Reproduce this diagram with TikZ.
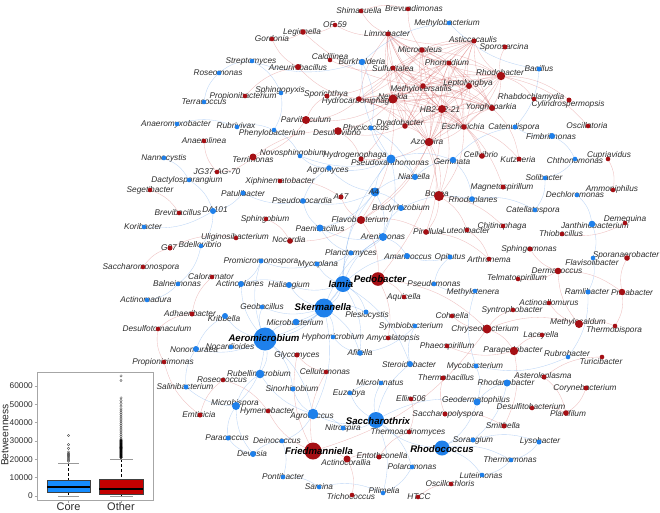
\documentclass[tikz,border=0pt]{standalone}
\usepackage{fontspec}
\setmainfont{Liberation Sans}
\definecolor{nblue}{RGB}{30,128,235}
\definecolor{nred}{RGB}{165,15,20}
\definecolor{eblue}{RGB}{95,155,235}
\definecolor{ered}{RGB}{205,60,60}
\definecolor{lbl}{RGB}{45,45,45}
\definecolor{boxblue}{RGB}{20,140,255}
\definecolor{boxred}{RGB}{195,0,0}
\pgfdeclarelayer{bg}
\pgfdeclarelayer{edges}
\pgfdeclarelayer{dots}
\pgfdeclarelayer{top}
\pgfsetlayers{bg,edges,main,dots,top}
\tikzset{
  redge/.style={draw=ered, line width=0.35pt, opacity=0.33},
  bedge/.style={draw=eblue, line width=0.35pt, opacity=0.42},
  lbltxt/.style={font=\fontsize{8.3}{9}\selectfont\itshape, text=lbl, inner sep=0pt},
  bigtxt/.style={font=\fontsize{9.6}{10}\selectfont\bfseries\itshape, text=black, inner sep=0pt},
  dotnode/.style={circle, inner sep=0pt, draw=none},
  ticklbl/.style={font=\fontsize{8.3}{9}\selectfont, text=lbl, anchor=east, inner sep=0pt},
}
\newcommand\netnode[8]{%
  \node[lbltxt] at (#6,#7) {#8};
  \begin{pgfonlayer}{dots}
  \node[dotnode, fill=#4, minimum size=#5*2pt] (#1) at (#2,#3) {};
  \end{pgfonlayer}
}
\newcommand\bignode[9]{%
  \begin{pgfonlayer}{top}
  \node[#9] at (#6,#7) {#8};
  \end{pgfonlayer}
  \begin{pgfonlayer}{dots}
  \node[dotnode, fill=#4, minimum size=#5*2pt] (#1) at (#2,#3) {};
  \end{pgfonlayer}
}
\begin{document}
\begin{tikzpicture}[x=1pt,y=-1pt]
\useasboundingbox (0,0) rectangle (660,512);
\begin{pgfonlayer}{bg}
\fill[white] (0,0) rectangle (660,512);
\end{pgfonlayer}
% ---------------- nodes ----------------
\netnode{shimasuella}{361}{11}{nred}{2.3}{359}{11}{Shimasuella}
\netnode{brevundimonas}{408}{9}{nred}{2.3}{414}{9}{Brevundimonas}
\netnode{methylobacterium}{449}{23}{nblue}{2.3}{447}{23}{Methylobacterium}
\netnode{ofn}{335}{25}{nred}{2.3}{335}{25}{OF-59}
\netnode{legionella}{303}{32}{nred}{2.8}{302}{32}{Legionella}
\netnode{limnobacter}{388}{34}{nred}{2.5}{387}{34}{Limnobacter}
\netnode{gordonia}{272}{39}{nred}{2.3}{272}{39}{Gordonia}
\netnode{microcoleus}{422}{50}{nred}{2.8}{420}{50}{Microcoleus}
\netnode{asticcacaulis}{474}{41}{nred}{2.5}{473}{40}{Asticcacaulis}
\netnode{sporosarcina}{505}{47}{nred}{2.5}{504}{47}{Sporosarcina}
\netnode{caldilinea}{330}{60}{nred}{2.3}{330}{57}{Caldilinea}
\netnode{burkholderia}{362}{62}{nblue}{3.2}{362}{62}{Burkholderia}
\netnode{streptomyces}{252}{61}{nblue}{2.3}{251}{61}{Streptomyces}
\netnode{aneurinibacillus}{298}{67}{nred}{3}{298}{68}{Aneurinibacillus}
\netnode{sulfuritalea}{393}{68}{nred}{2.5}{393}{69}{Sulfuritalea}
\netnode{phormidium}{449}{63}{nred}{2.5}{447}{63}{Phormidium}
\netnode{rhodobacter}{501}{76}{nred}{4.2}{500}{73}{Rhodobacter}
\netnode{bacillus}{539}{69}{nblue}{2.5}{539}{69}{Bacillus}
\netnode{roseomonas}{219}{73}{nblue}{2.3}{218}{73}{Roseomonas}
\netnode{sphingopyxis}{281}{93}{nblue}{2.3}{280}{90}{Sphingopyxis}
\netnode{sporichthya}{327}{96}{nred}{2.5}{326}{94}{Sporichthya}
\netnode{propionibacterium}{245}{96}{nred}{2.3}{243}{96}{Propionibacterium}
\netnode{terracoccus}{204}{102}{nblue}{2.3}{204}{102}{Terracoccus}
\netnode{methyloversatilis}{423}{86}{nred}{2.8}{421}{89}{Methyloversatilis}
\netnode{nevskia}{393}{99}{nred}{4.5}{393}{97}{Nevskia}
\netnode{hydrocarboniphaga}{359}{99}{nred}{2.8}{358}{101}{Hydrocarboniphaga}
\netnode{leptolyngbya}{469}{86}{nred}{3}{468}{83}{Leptolyngbya}
\netnode{hbtwo}{442}{109}{nred}{4}{440}{110}{HB2-32-21}
\netnode{yonghaparkia}{492}{108}{nred}{3}{491}{107}{Yonghaparkia}
\netnode{rhabdochlamydia}{534}{99}{nred}{2.3}{531}{97}{Rhabdochlamydia}
\netnode{cylindrospermopsis}{569}{100}{nred}{2.5}{568}{104}{Cylindrospermopsis}
\netnode{parvibaculum}{306}{120}{nred}{4}{306}{120}{Parvibaculum}
\netnode{dyadobacter}{405}{126}{nred}{2.8}{400}{123}{Dyadobacter}
\netnode{phycicoccus}{371}{128}{nblue}{2.5}{366}{128}{Phycicoccus}
\netnode{rubrivivax}{237}{127}{nblue}{2.3}{236}{126}{Rubrivivax}
\netnode{anaeromyxobacter}{177}{124}{nblue}{2.3}{176}{124}{Anaeromyxobacter}
\netnode{anaerolinea}{204}{141}{nred}{2.3}{204}{141}{Anaerolinea}
\netnode{escherichia}{464}{127}{nred}{2.8}{463}{127}{Escherichia}
\netnode{catenulispora}{515}{127}{nblue}{2.5}{514}{127}{Catenulispora}
\netnode{oscillatoria}{588}{126}{nred}{2.3}{587}{126}{Oscillatoria}
\netnode{fimbriimonas}{552}{136}{nblue}{3}{551}{137}{Fimbriimonas}
\netnode{azospira}{429}{142}{nred}{4.2}{427}{142}{Azospira}
\netnode{desulfovibrio}{338}{131}{nred}{3.8}{337}{133}{Desulfovibrio}
\netnode{phenylobacterium}{274}{130}{nblue}{2.3}{272}{133}{Phenylobacterium}
\netnode{nannocystis}{164}{158}{nblue}{2.3}{164}{158}{Nannocystis}
\netnode{jg}{217}{172}{nred}{2.3}{217}{172}{JG37-AG-70}
\netnode{dactylosporangium}{189}{180}{nblue}{2.3}{187}{180}{Dactylosporangium}
\netnode{segetibacter}{150}{190}{nred}{2.3}{150}{190}{Segetibacter}
\netnode{brevibacillus}{179}{213}{nred}{2.3}{178}{213}{Brevibacillus}
\netnode{daone}{213}{211}{nblue}{3}{215}{210}{DA101}
\netnode{koribacter}{144}{227}{nblue}{2.3}{143}{227}{Koribacter}
\netnode{uliginosibacterium}{236}{238}{nred}{2.3}{235}{237}{Uliginosibacterium}
\netnode{bdellovibrio}{201}{246}{nblue}{2.3}{200}{245}{Bdellovibrio}
\netnode{gzs}{170}{248}{nred}{2.5}{169}{248}{G07}
\netnode{terrimonas}{253}{157}{nred}{3.5}{253}{160}{Terrimonas}
\netnode{novosphingobium}{300}{156}{nblue}{2.3}{293}{153}{Novosphingobium}
\netnode{hydrogenophaga}{361}{159}{nred}{2.5}{355}{155}{Hydrogenophaga}
\netnode{pseudoxanthomonas}{391}{159}{nblue}{4.5}{390}{163}{Pseudoxanthomonas}
\netnode{agromyces}{329}{168}{nblue}{2.8}{328}{170}{Agromyces}
\netnode{xiphinematobacter}{280}{181}{nred}{2.3}{280}{181}{Xiphinematobacter}
\netnode{niastella}{415}{177}{nblue}{3}{414}{177}{Niastella}
\netnode{patulibacter}{243}{193}{nblue}{2.5}{243}{194}{Patulibacter}
\bignode{afour}{375}{192}{nblue}{4.5}{374}{192}{A4}{lbltxt}
\netnode{asev}{341}{197}{nred}{2.5}{341}{197}{A17}
\netnode{pseudonocardia}{303}{201}{nblue}{2.8}{302}{201}{Pseudonocardia}
\netnode{bradyrhizobium}{401}{208}{nblue}{3}{401}{208}{Bradyrhizobium}
\netnode{sphingobium}{266}{219}{nred}{2.3}{265}{219}{Sphingobium}
\netnode{flavobacterium}{361}{220}{nred}{4}{360}{220}{Flavobacterium}
\netnode{paenibacillus}{320}{228}{nblue}{3.5}{320}{229}{Paenibacillus}
\netnode{pirellula}{426}{232}{nred}{2.8}{428}{232}{Pirellula}
\netnode{nocardia}{290}{241}{nred}{2.8}{289}{240}{Nocardia}
\netnode{arenimonas}{383}{237}{nblue}{4}{383}{237}{Arenimonas}
\netnode{cellvibrio}{482}{156}{nred}{2.8}{481}{155}{Cellvibrio}
\netnode{gemmata}{453}{160}{nblue}{3.2}{452}{162}{Gemmata}
\netnode{kutzneria}{519}{159}{nred}{2.5}{518}{160}{Kutzneria}
\netnode{chthonomonas}{575}{159}{nblue}{2.3}{575}{161}{Chthonomonas}
\netnode{cupriavidus}{608}{159}{nred}{2.3}{609}{155}{Cupriavidus}
\netnode{solibacter}{545}{178}{nblue}{2.3}{544}{178}{Solibacter}
\netnode{magnetospirillum}{503}{187}{nred}{2.5}{502}{187}{Magnetospirillum}
\netnode{ammoniphilus}{613}{190}{nred}{2.3}{612}{189}{Ammoniphilus}
\netnode{dechloromonas}{577}{195}{nblue}{2.3}{575}{195}{Dechloromonas}
\netnode{bosea}{439}{196}{nred}{5}{437}{194}{Bosea}
\netnode{rhodoplanes}{472}{199}{nblue}{2.8}{473}{200}{Rhodoplanes}
\netnode{catellatospora}{535}{210}{nblue}{2.3}{533}{210}{Catellatospora}
\netnode{demequina}{625}{223}{nred}{2.3}{625}{219}{Demequina}
\netnode{janthinobacterium}{592}{224}{nblue}{3.3}{595}{226}{Janthinobacterium}
\netnode{chitinophaga}{503}{226}{nred}{2.3}{502}{226}{Chitinophaga}
\netnode{luteolibacter}{467}{230}{nred}{2.3}{466}{231}{Luteolibacter}
\netnode{thiobacillus}{562}{234}{nred}{2.3}{561}{234}{Thiobacillus}
\netnode{sphingomonas}{530}{249}{nred}{2.5}{529}{249}{Sphingomonas}
\netnode{opitutus}{450}{257}{nblue}{2.5}{450}{257}{Opitutus}
\netnode{arthronema}{489}{259}{nred}{2.3}{489}{260}{Arthronema}
\netnode{sporanaerobacter}{627}{258}{nred}{2.8}{626}{255}{Sporanaerobacter}
\netnode{flavisolibacter}{593}{258}{nblue}{2.3}{592}{263}{Flavisolibacter}
\netnode{dermacoccus}{558}{271}{nred}{3.3}{557}{271}{Dermacoccus}
\netnode{pseudomonas}{434}{284}{nblue}{2.3}{434}{284}{Pseudomonas}
\netnode{telmatospirillum}{518}{279}{nred}{2.3}{517}{278}{Telmatospirillum}
\netnode{methylotenera}{475}{291}{nblue}{2.3}{473}{292}{Methylotenera}
\netnode{ramlibacter}{588}{292}{nblue}{2.5}{587}{292}{Ramlibacter}
\netnode{pricabacter}{622}{292}{nred}{3.2}{632}{293}{Pricabacter}
\netnode{actinoallomurus}{549}{303}{nred}{2.3}{549}{303}{Actinoallomurus}
\netnode{syntrophobacter}{513}{310}{nred}{2.3}{512}{310}{Syntrophobacter}
\netnode{cohnella}{452}{316}{nred}{2.3}{452}{316}{Cohnella}
\netnode{methylocaldum}{579}{324}{nred}{4}{578}{322}{Methylocaldum}
\netnode{thermobispora}{615}{326}{nred}{2.3}{614}{330}{Thermobispora}
\netnode{chryseobacterium}{487}{329}{nred}{4.5}{485}{329}{Chryseobacterium}
\netnode{laceyella}{542}{335}{nred}{2.3}{541}{335}{Laceyella}
\netnode{phaeospirillum}{447}{346}{nred}{2.3}{447}{346}{Phaeospirillum}
\netnode{parapedobacter}{514}{351}{nred}{4.2}{513}{350}{Parapedobacter}
\netnode{rubrobacter}{568}{357}{nblue}{2.3}{567}{354}{Rubrobacter}
\netnode{turicibacter}{602}{357}{nred}{2.3}{601}{362}{Turicibacter}
\netnode{mycobacterium}{476}{366}{nblue}{2.5}{475}{366}{Mycobacterium}
\netnode{saccharomonospora}{143}{267}{nred}{2.3}{141}{267}{Saccharomonospora}
\netnode{caloramator}{212}{277}{nred}{2.3}{211}{277}{Caloramator}
\netnode{balneimonas}{178}{284}{nblue}{2.3}{177}{284}{Balneimonas}
\netnode{actinomadura}{147}{300}{nblue}{2.3}{146}{300}{Actinomadura}
\netnode{adhaeribacter}{192}{314}{nred}{2.5}{190}{314}{Adhaeribacter}
\netnode{desulfotomaculum}{158}{329}{nred}{2.3}{157}{329}{Desulfotomaculum}
\netnode{nonomuraea}{196}{349}{nblue}{3}{194}{350}{Nonomuraea}
\netnode{propionicimonas}{164}{362}{nred}{2.3}{163}{362}{Propionicimonas}
\netnode{planctomyces}{351}{253}{nblue}{2.5}{351}{253}{Planctomyces}
\netnode{amaricoccus}{407}{256}{nblue}{3}{408}{257}{Amaricoccus}
\netnode{promicromonospora}{261}{261}{nblue}{2.5}{261}{261}{Promicromonospora}
\netnode{mycoplana}{317}{264}{nblue}{2.5}{318}{264}{Mycoplana}
\netnode{actinoplanes}{241}{284}{nblue}{3}{240}{284}{Actinoplanes}
\netnode{haliangium}{289}{285}{nblue}{3}{289}{285}{Haliangium}
\bignode{iamia}{343}{284}{nblue}{8}{341}{284}{Iamia}{bigtxt}
\bignode{pedobacter}{378}{279}{nred}{6.8}{380}{279}{Pedobacter}{bigtxt}
\netnode{aquicella}{404}{297}{nred}{2.3}{404}{297}{Aquicella}
\netnode{geobacillus}{262}{307}{nblue}{2.3}{262}{307}{Geobacillus}
\bignode{skermanella}{324}{308}{nblue}{9.5}{323}{307}{Skermanella}{bigtxt}
\netnode{plesiocystis}{366}{312}{nblue}{2.5}{367}{315}{Plesiocystis}
\netnode{kribbella}{225}{316}{nblue}{3}{224}{319}{Kribbella}
\netnode{microbacterium}{296}{322}{nblue}{3.3}{295}{323}{Microbacterium}
\netnode{symbiobacterium}{415}{326}{nblue}{2.3}{411}{326}{Symbiobacterium}
\bignode{aeromicrobium}{265}{339}{nblue}{11.5}{264}{338}{Aeromicrobium}{bigtxt}
\netnode{hyphomicrobium}{333}{337}{nblue}{2.3}{333}{337}{Hyphomicrobium}
\netnode{amycolatopsis}{388}{338}{nred}{2.3}{393}{338}{Amycolatopsis}
\netnode{nocardioides}{231}{347}{nblue}{2.3}{230}{347}{Nocardioides}
\netnode{glycomyces}{297}{355}{nred}{2.5}{297}{355}{Glycomyces}
\netnode{afifella}{360}{353}{nblue}{2.8}{360}{353}{Afifella}
\netnode{steroidobacter}{410}{364}{nblue}{3}{409}{365}{Steroidobacter}
\netnode{cellulomonas}{326}{372}{nred}{2.3}{325}{372}{Cellulomonas}
\netnode{salinibacterium}{186}{387}{nblue}{2.5}{185}{387}{Salinibacterium}
\netnode{emticicia}{200}{415}{nred}{2.5}{199}{415}{Emticicia}
\netnode{rubellimicrobium}{260}{374}{nblue}{4.3}{259}{374}{Rubellimicrobium}
\netnode{roseococcus}{223}{380}{nred}{2.3}{222}{380}{Roseococcus}
\netnode{sinorhizobium}{293}{389}{nblue}{2.5}{292}{389}{Sinorhizobium}
\netnode{microlunatus}{381}{383}{nblue}{2.3}{380}{383}{Microlunatus}
\netnode{euzebya}{350}{393}{nblue}{2.3}{349}{393}{Euzebya}
\netnode{ellin}{411}{399}{nred}{2.3}{411}{399}{Ellin506}
\netnode{microbispora}{236}{406}{nblue}{4}{235}{403}{Microbispora}
\netnode{hymenobacter}{268}{411}{nred}{2.3}{267}{411}{Hymenobacter}
\netnode{agrococcus}{313}{414}{nblue}{5.3}{312}{416}{Agrococcus}
\bignode{saccharothrix}{376}{420}{nblue}{8}{378}{421}{Saccharothrix}{bigtxt}
\netnode{nitrospira}{343}{428}{nblue}{2.5}{343}{428}{Nitrospira}
\netnode{thermoactinomyces}{409}{432}{nred}{2.3}{408}{432}{Thermoactinomyces}
\netnode{paracoccus}{228}{438}{nblue}{2.5}{227}{438}{Paracoccus}
\netnode{deinococcus}{282}{441}{nblue}{2.3}{277}{441}{Deinococcus}
\bignode{friedmanniella}{313}{451}{nred}{8.5}{319}{451}{Friedmanniella}{bigtxt}
\netnode{devosia}{253}{454}{nblue}{3}{252}{454}{Devosia}
\netnode{actinocorallia}{347}{459}{nred}{3.5}{346}{463}{Actinocorallia}
\netnode{entotheonella}{379}{457}{nred}{2.5}{382}{456}{Entotheonella}
\netnode{polaromonas}{412}{467}{nblue}{2.3}{412}{467}{Polaromonas}
\netnode{pontibacter}{283}{477}{nblue}{2.3}{283}{477}{Pontibacter}
\netnode{sarcina}{319}{487}{nblue}{2.3}{319}{487}{Sarcina}
\netnode{trichococcus}{352}{495}{nred}{2.3}{351}{497}{Trichococcus}
\netnode{pilimelia}{383}{493}{nblue}{2.3}{384}{491}{Pilimelia}
\netnode{htcc}{418}{497}{nred}{2.3}{419}{497}{HTCC}
\netnode{thermobacillus}{443}{378}{nred}{2.5}{446}{378}{Thermobacillus}
\netnode{asteroleplasma}{544}{377}{nred}{2.5}{543}{376}{Asteroleplasma}
\netnode{rhodanobacter}{507}{383}{nblue}{3.5}{506}{383}{Rhodanobacter}
\netnode{corynebacterium}{586}{388}{nred}{2.5}{585}{388}{Corynebacterium}
\netnode{geodermatophilus}{477}{402}{nblue}{3.5}{476}{400}{Geodermatophilus}
\netnode{desulfitobacterium}{532}{408}{nred}{2.3}{531}{407}{Desulfitobacterium}
\netnode{planifilum}{566}{413}{nred}{2.8}{568}{414}{Planifilum}
\netnode{saccharopolyspora}{445}{414}{nred}{2.5}{448}{414}{Saccharopolyspora}
\netnode{smithella}{504}{426}{nred}{2.5}{503}{426}{Smithella}
\netnode{sorangium}{473}{440}{nblue}{2.5}{473}{440}{Sorangium}
\netnode{lysobacter}{539}{442}{nblue}{2.5}{540}{441}{Lysobacter}
\bignode{rhodococcus}{442}{448}{nblue}{7.5}{442}{449}{Rhodococcus}{bigtxt}
\netnode{thermomonas}{511}{460}{nblue}{2.3}{510}{460}{Thermomonas}
\netnode{luteimonas}{482}{475}{nblue}{2.3}{481}{476}{Luteimonas}
\netnode{oscillochloris}{451}{484}{nred}{2.3}{450}{484}{Oscillochloris}
% ---------------- edges ----------------
\begin{pgfonlayer}{edges}
\foreach \a [count=\i] in {nevskia,hbtwo,methyloversatilis,microcoleus,phormidium,leptolyngbya,rhodobacter,sulfuritalea,hydrocarboniphaga,dyadobacter,escherichia,azospira,yonghaparkia,asticcacaulis,limnobacter}{
  \foreach \b [count=\j] in {nevskia,hbtwo,methyloversatilis,microcoleus,phormidium,leptolyngbya,rhodobacter,sulfuritalea,hydrocarboniphaga,dyadobacter,escherichia,azospira,yonghaparkia,asticcacaulis,limnobacter}{
    \ifnum\j>\i \draw[redge] (\a) to[bend left=14] (\b); \fi
  }
}
\foreach \a/\b in {nevskia/bosea, hbtwo/bosea, azospira/bosea, escherichia/bosea, nevskia/flavobacterium, hbtwo/flavobacterium, azospira/flavobacterium, nevskia/desulfovibrio, dyadobacter/desulfovibrio, nevskia/parvibaculum, hydrocarboniphaga/parvibaculum, nevskia/hydrogenophaga, azospira/hydrogenophaga, hbtwo/cellvibrio, escherichia/cellvibrio, escherichia/kutzneria, yonghaparkia/kutzneria, rhodobacter/sporosarcina, rhodobacter/rhabdochlamydia, rhodobacter/cylindrospermopsis, rhodobacter/oscillatoria, hbtwo/magnetospirillum, bosea/pirellula, bosea/luteolibacter, bosea/chitinophaga, azospira/pirellula, flavobacterium/pedobacter, flavobacterium/asev, flavobacterium/nocardia, terrimonas/desulfovibrio, parvibaculum/terrimonas, sulfuritalea/caldilinea, sulfuritalea/sporichthya, hydrocarboniphaga/aneurinibacillus, methyloversatilis/legionella, limnobacter/ofn, limnobacter/shimasuella, microcoleus/brevundimonas, aneurinibacillus/gordonia, legionella/gordonia, propionibacterium/aneurinibacillus, hbtwo/pedobacter, pedobacter/aquicella, pedobacter/chryseobacterium, chryseobacterium/parapedobacter, chryseobacterium/methylocaldum, parapedobacter/laceyella, methylocaldum/thermobispora, methylocaldum/dermacoccus, dermacoccus/sphingomonas, dermacoccus/telmatospirillum, chryseobacterium/cohnella, chryseobacterium/syntrophobacter, parapedobacter/phaeospirillum, friedmanniella/actinocorallia, actinocorallia/entotheonella, entotheonella/thermoactinomyces, friedmanniella/hymenobacter, friedmanniella/glycomyces, actinocorallia/trichococcus, htcc/oscillochloris, saccharopolyspora/thermobacillus, saccharopolyspora/smithella, desulfitobacterium/planifilum, asteroleplasma/planifilum, corynebacterium/planifilum, asteroleplasma/turicibacter, pricabacter/sporanaerobacter, pricabacter/thermobispora, demequina/thiobacillus, cupriavidus/ammoniphilus, emticicia/propionicimonas, emticicia/roseococcus, desulfotomaculum/adhaeribacter, propionicimonas/desulfotomaculum, adhaeribacter/caloramator, saccharomonospora/gzs, gzs/uliginosibacterium, segetibacter/brevibacillus, jg/anaerolinea, terrimonas/jg, sphingobium/nocardia, xiphinematobacter/asev, cellulomonas/glycomyces, roseococcus/hymenobacter, ellin/thermoactinomyces, pirellula/arthronema, luteolibacter/arthronema, flavobacterium/pirellula, pedobacter/amycolatopsis, parvibaculum/sporichthya, desulfovibrio/hydrogenophaga, friedmanniella/cellulomonas, methylocaldum/actinoallomurus, dermacoccus/pricabacter, chryseobacterium/friedmanniella, parapedobacter/smithella, shimasuella/brevundimonas, ofn/legionella}{
  \draw[redge] (\a) to[bend left=18] (\b);
}
\foreach \a/\b in {iamia/skermanella, iamia/aeromicrobium, skermanella/aeromicrobium, iamia/planctomyces, iamia/plesiocystis, iamia/arenimonas, iamia/afour, iamia/pseudoxanthomonas, iamia/mycoplana, iamia/amaricoccus, iamia/haliangium, skermanella/microbacterium, skermanella/haliangium, skermanella/hyphomicrobium, skermanella/plesiocystis, skermanella/afifella, skermanella/agrococcus, skermanella/geobacillus, aeromicrobium/microbacterium, aeromicrobium/actinoplanes, aeromicrobium/geobacillus, aeromicrobium/kribbella, aeromicrobium/nocardioides, aeromicrobium/nonomuraea, aeromicrobium/rubellimicrobium, aeromicrobium/promicromonospora, aeromicrobium/microbispora, aeromicrobium/agrococcus, aeromicrobium/sinorhizobium, afour/arenimonas, afour/pseudoxanthomonas, afour/bradyrhizobium, afour/niastella, afour/agromyces, afour/paenibacillus, afour/pseudonocardia, pseudoxanthomonas/arenimonas, pseudoxanthomonas/gemmata, pseudoxanthomonas/phycicoccus, pseudoxanthomonas/agromyces, pseudoxanthomonas/niastella, pseudoxanthomonas/burkholderia, pseudoxanthomonas/novosphingobium, arenimonas/paenibacillus, arenimonas/planctomyces, arenimonas/bradyrhizobium, arenimonas/amaricoccus, bradyrhizobium/rhodoplanes, rhodoplanes/catellatospora, gemmata/rhodoplanes, gemmata/catenulispora, burkholderia/methylobacterium, burkholderia/streptomyces, burkholderia/phycicoccus, bacillus/catenulispora, bacillus/methylobacterium, fimbriimonas/chthonomonas, fimbriimonas/catenulispora, chthonomonas/solibacter, solibacter/catellatospora, dechloromonas/janthinobacterium, janthinobacterium/flavisolibacter, flavisolibacter/ramlibacter, ramlibacter/rubrobacter, rubrobacter/mycobacterium, mycobacterium/geodermatophilus, geodermatophilus/rhodanobacter, geodermatophilus/rhodococcus, rhodococcus/sorangium, rhodococcus/saccharothrix, rhodococcus/luteimonas, sorangium/lysobacter, lysobacter/thermomonas, thermomonas/luteimonas, saccharothrix/microlunatus, saccharothrix/euzebya, saccharothrix/nitrospira, saccharothrix/agrococcus, saccharothrix/polaromonas, saccharothrix/steroidobacter, saccharothrix/pilimelia, agrococcus/deinococcus, agrococcus/sinorhizobium, agrococcus/nitrospira, agrococcus/rubellimicrobium, deinococcus/pontibacter, devosia/paracoccus, paracoccus/microbispora, microbispora/rubellimicrobium, microbispora/salinibacterium, salinibacterium/nonomuraea, nonomuraea/kribbella, sarcina/pilimelia, pontibacter/sarcina, steroidobacter/symbiobacterium, symbiobacterium/afifella, afifella/hyphomicrobium, methylotenera/pseudomonas, pseudomonas/opitutus, opitutus/amaricoccus, planctomyces/mycoplana, mycoplana/promicromonospora, promicromonospora/actinoplanes, actinoplanes/haliangium, paenibacillus/pseudonocardia, pseudonocardia/agromyces, agromyces/novosphingobium, patulibacter/daone, daone/koribacter, daone/bdellovibrio, bdellovibrio/balneimonas, balneimonas/actinomadura, nannocystis/dactylosporangium, dactylosporangium/daone, anaeromyxobacter/rubrivivax, rubrivivax/phenylobacterium, terracoccus/roseomonas, roseomonas/streptomyces, streptomyces/sphingopyxis, sphingopyxis/phenylobacterium, phenylobacterium/novosphingobium, phycicoccus/niastella, niastella/gemmata, iamia/microbacterium, skermanella/arenimonas, devosia/deinococcus, euzebya/microlunatus, polaromonas/pilimelia, rhodanobacter/sorangium, mycobacterium/methylotenera, planctomyces/paenibacillus, devosia/microbispora, rhodococcus/thermomonas, saccharothrix/geodermatophilus, iamia/afifella, pseudonocardia/patulibacter, iamia/steroidobacter}{
  \draw[bedge] (\a) to[bend left=18] (\b);
}
\end{pgfonlayer}
% ---------------- box plot inset (values in thousands) ----------------
\fill[white] (37,372) rectangle (153,500);
\foreach \v in {0,10,20,30,40,50,60}{
  \draw[gray!70, line width=0.5pt] (34.5,{496-\v*1.833}) -- (37,{496-\v*1.833});
  \node[ticklbl] at (33,{496-\v*1.833}) {\ifnum\v=0 0\else\v000\fi};
}
\node[font=\fontsize{10.3}{11}\selectfont, text=lbl, rotate=90, inner sep=0pt] at (5,435) {Betweenness};
\draw[gray!70, line width=0.5pt] (68.5,500) -- (68.5,502.5) (121,500) -- (121,502.5);
\node[font=\fontsize{11}{12}\selectfont, text=lbl, inner sep=0pt] at (68.5,506.3) {Core};
\node[font=\fontsize{11}{12}\selectfont, text=lbl, inner sep=0pt] at (121,506.3) {Other};
% Core
\draw[densely dashed, line width=0.4pt] (68.5,463) -- (68.5,480) (68.5,492) -- (68.5,496);
\draw[gray!80, line width=0.5pt] (58,463) -- (79,463) (58,496) -- (79,496);
\fill[boxblue] (47,480) rectangle (90,492);
\draw[gray!50!black, line width=0.4pt] (47,480) rectangle (90,492);
\draw[black, line width=1.3pt] (47,487) -- (90,487);
\foreach \v in {19,19.6,20.2,20.8,21.4,22,22.6,23.2,24,26,28,33}{
  \draw[gray!60!black, line width=0.35pt] (68.5,{496-\v*1.833}) circle (1.2);
}
% Other
\draw[densely dashed, line width=0.4pt] (121,459) -- (121,479) (121,494) -- (121,496);
\draw[gray!80, line width=0.5pt] (110,459) -- (133,459) (110,496) -- (133,496);
\fill[boxred] (99,479) rectangle (143,494);
\draw[gray!50!black, line width=0.4pt] (99,479) rectangle (143,494);
\draw[black, line width=1.3pt] (99,489) -- (143,489);
\foreach \v in {21,21.4,...,30.6}{
  \draw[black, line width=0.45pt] (121,{496-\v*1.833}) circle (1.2);
}
\foreach \v in {31.5,32.5,...,47.5}{
  \draw[gray!60!black, line width=0.35pt] (121,{496-\v*1.833}) circle (1.2);
}
\foreach \v in {49,50.5,52,53.5,63,65.5}{
  \draw[gray!60!black, line width=0.35pt] (121,{496-\v*1.833}) circle (1.2);
}
\draw[gray!70, line width=0.6pt] (37,372) rectangle (153,500);
\end{tikzpicture}
\end{document}
